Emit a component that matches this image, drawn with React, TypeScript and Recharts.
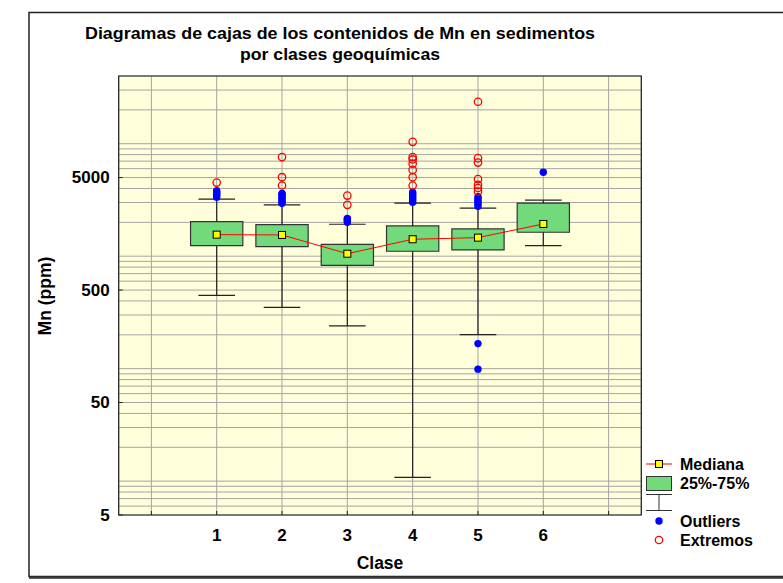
import React from "react";
import {
  ComposedChart,
  XAxis,
  YAxis,
  CartesianGrid,
  ReferenceArea,
  ReferenceLine,
  Line,
  Scatter,
} from "recharts";

// Box statistics per geochemical class (Mn, ppm)
const classes = [1, 2, 3, 4, 5, 6];
const lowerWhisker = [448, 351, 240, 10.8, 201, 1240];
const q1 = [1240, 1215, 830, 1107, 1136, 1633];
const median = [1555, 1545, 1052, 1415, 1462, 1935];
const q3 = [2030, 1910, 1276, 1860, 1746, 2960];
const upperWhisker = [3210, 2860, 1923, 2960, 2670, 3145];

// Points beyond the whiskers
const outliers = [
  [3350, 3450, 3550, 3650, 3750, 3820],
  [2950, 3050, 3150, 3250, 3350, 3450, 3550, 3620],
  [2000, 2060, 2120, 2160],
  [3010, 3120, 3230, 3350, 3470, 3590, 3700],
  [2780, 2900, 3020, 3140, 3260, 3380, 167, 99],
  [5580],
];
const extremes = [
  [4510],
  [7600, 5040, 4250],
  [3460, 2860],
  [10400, 7600, 7250, 6650, 5850, 5040, 4250],
  [23600, 7440, 6800, 4840, 4300, 4040, 3760],
  [],
];

const xTicks = [0, 1, 2, 3, 4, 5, 6, 7];
const yTicks = [
  5, 6, 7, 8, 9, 10, 20, 30, 40, 50, 60, 70, 80, 90, 100, 200, 300, 400, 500,
  600, 700, 800, 900, 1000, 2000, 3000, 4000, 5000, 6000, 7000, 8000, 9000,
  10000, 20000, 30000, 40000,
];
const yLabels = [5, 50, 500, 5000];

const FONT = "'Liberation Sans', Arial, sans-serif";
const BOX_HALF = 0.4;
const CAP_HALF = 0.28;
const BOX_FILL = "#72DA7A";

const medianData = classes.map((c, i) => ({ x: c, y: median[i] }));
const outlierData = classes.flatMap((c, i) => outliers[i].map((v) => ({ x: c, y: v })));
const extremeData = classes.flatMap((c, i) => extremes[i].map((v) => ({ x: c, y: v })));

const YTick = (props: any) => {
  const { x, y, payload } = props;
  if (!yLabels.includes(payload.value)) return <g />;
  return (
    <g>
      <line x1={x + 8} x2={x + 12} y1={y} y2={y} stroke="#222" />
      <text
        x={x - 1}
        y={y}
        textAnchor="end"
        dominantBaseline="central"
        fontFamily={FONT}
        fontWeight="bold"
        fontSize={17}
        fill="#000"
      >
        {payload.value}
      </text>
    </g>
  );
};

const XTick = (props: any) => {
  const { x, y, payload } = props;
  const show = payload.value >= 1 && payload.value <= 6;
  return (
    <g>
      <line x1={x} x2={x} y1={y - 8} y2={y - 12} stroke="#222" />
      {show && (
        <text
          x={x}
          y={y + 18}
          textAnchor="middle"
          fontFamily={FONT}
          fontWeight="bold"
          fontSize={17}
          fill="#000"
        >
          {payload.value}
        </text>
      )}
    </g>
  );
};

const SquareDot = (props: any) => {
  const { cx, cy, index } = props;
  return (
    <rect key={`m${index}`} x={cx - 3.5} y={cy - 3.5} width={7} height={7} fill="#FFFF00" stroke="#000" strokeWidth={1} />
  );
};

const BlueDot = (props: any) => <circle cx={props.cx} cy={props.cy} r={3.7} fill="#0000FF" />;
const RedRing = (props: any) => (
  <circle cx={props.cx} cy={props.cy} r={3.7} fill="none" stroke="#FF0000" strokeWidth={1.3} />
);

export default function App() {
  return (
    <div style={{ position: "absolute", left: 0, top: 0, width: 783, height: 583, background: "#fff", overflow: "hidden" }}>
      <ComposedChart width={783} height={583} margin={{ top: 76, right: 141.7, bottom: 38, left: 58.7 }}>
        <CartesianGrid stroke="#A4A4A4" fill="#FFFFDC" fillOpacity={1} />
        <XAxis
          type="number"
          dataKey="x"
          domain={[-0.5, 7.5]}
          ticks={xTicks}
          interval={0}
          tick={XTick}
          tickLine={false}
          axisLine={false}
          height={30}
          allowDataOverflow
        />
        <YAxis
          type="number"
          dataKey="y"
          scale="log"
          domain={[5, 40000]}
          ticks={yTicks}
          interval={0}
          tick={YTick}
          tickLine={false}
          axisLine={false}
          width={60}
          allowDataOverflow
        />
        <ReferenceArea x1={-0.5} x2={7.5} y1={5} y2={40000} fill="none" stroke="#222" strokeWidth={1.2} />
        {classes.map((c, i) => (
          <ReferenceLine
            key={`wu${c}`}
            segment={[{ x: c, y: q3[i] }, { x: c, y: upperWhisker[i] }]}
            stroke="#222"
            strokeWidth={1.2}
          />
        ))}
        {classes.map((c, i) => (
          <ReferenceLine
            key={`wl${c}`}
            segment={[{ x: c, y: lowerWhisker[i] }, { x: c, y: q1[i] }]}
            stroke="#222"
            strokeWidth={1.2}
          />
        ))}
        {classes.map((c, i) => (
          <ReferenceLine
            key={`cu${c}`}
            segment={[{ x: c - CAP_HALF, y: upperWhisker[i] }, { x: c + CAP_HALF, y: upperWhisker[i] }]}
            stroke="#222"
            strokeWidth={1.2}
          />
        ))}
        {classes.map((c, i) => (
          <ReferenceLine
            key={`cl${c}`}
            segment={[{ x: c - CAP_HALF, y: lowerWhisker[i] }, { x: c + CAP_HALF, y: lowerWhisker[i] }]}
            stroke="#222"
            strokeWidth={1.2}
          />
        ))}
        {classes.map((c, i) => (
          <ReferenceArea
            key={`b${c}`}
            x1={c - BOX_HALF}
            x2={c + BOX_HALF}
            y1={q1[i]}
            y2={q3[i]}
            fill={BOX_FILL}
            fillOpacity={1}
            stroke="#333"
            strokeWidth={1.2}
          />
        ))}
        <Scatter data={outlierData} shape={BlueDot} isAnimationActive={false} />
        <Scatter data={extremeData} shape={RedRing} isAnimationActive={false} />
        <Line
          data={medianData}
          dataKey="y"
          type="linear"
          stroke="#FF0000"
          strokeWidth={1}
          dot={SquareDot}
          activeDot={false}
          isAnimationActive={false}
        />
      </ComposedChart>
      <svg
        width={783}
        height={583}
        style={{ position: "absolute", left: 0, top: 0, pointerEvents: "none" }}
        fontFamily={FONT}
        fontWeight="bold"
      >
        <rect x={29} y={12.5} width={800} height={564} fill="none" stroke="#222" strokeWidth={1.5} />
        <line x1={29} x2={783} y1={577.5} y2={577.5} stroke="#333" strokeWidth={2.5} />
        <text x={340} y={39} textAnchor="middle" fontSize={16.5} textLength={510} lengthAdjust="spacingAndGlyphs">
          Diagramas de cajas de los contenidos de Mn en sedimentos
        </text>
        <text x={340} y={60} textAnchor="middle" fontSize={16.5} textLength={200} lengthAdjust="spacingAndGlyphs">
          por clases geoquímicas
        </text>
        <text x={380} y={569} textAnchor="middle" fontSize={17.5}>
          Clase
        </text>
        <text x={51} y={296} textAnchor="middle" fontSize={17.5} transform="rotate(-90 51 296)">
          Mn (ppm)
        </text>
        {/* legend */}
        <line x1={646} x2={672} y1={464} y2={464} stroke="#FF0000" />
        <rect x={655.5} y={460.5} width={7} height={7} fill="#FFFF00" stroke="#000" />
        <rect x={646.5} y={476.5} width={25} height={14} fill={BOX_FILL} stroke="#333" />
        <line x1={646} x2={672} y1={494.5} y2={494.5} stroke="#333" />
        <line x1={659} x2={659} y1={494.5} y2={510.5} stroke="#333" />
        <line x1={646} x2={672} y1={510.5} y2={510.5} stroke="#333" />
        <circle cx={659} cy={521} r={3.7} fill="#0000FF" />
        <circle cx={659} cy={540} r={3.7} fill="none" stroke="#FF0000" strokeWidth={1.3} />
        <text x={680} y={464} dominantBaseline="central" fontSize={16}>Mediana</text>
        <text x={680} y={483} dominantBaseline="central" fontSize={16}>25%-75%</text>
        <text x={680} y={521} dominantBaseline="central" fontSize={16}>Outliers</text>
        <text x={680} y={540} dominantBaseline="central" fontSize={16}>Extremos</text>
      </svg>
    </div>
  );
}
